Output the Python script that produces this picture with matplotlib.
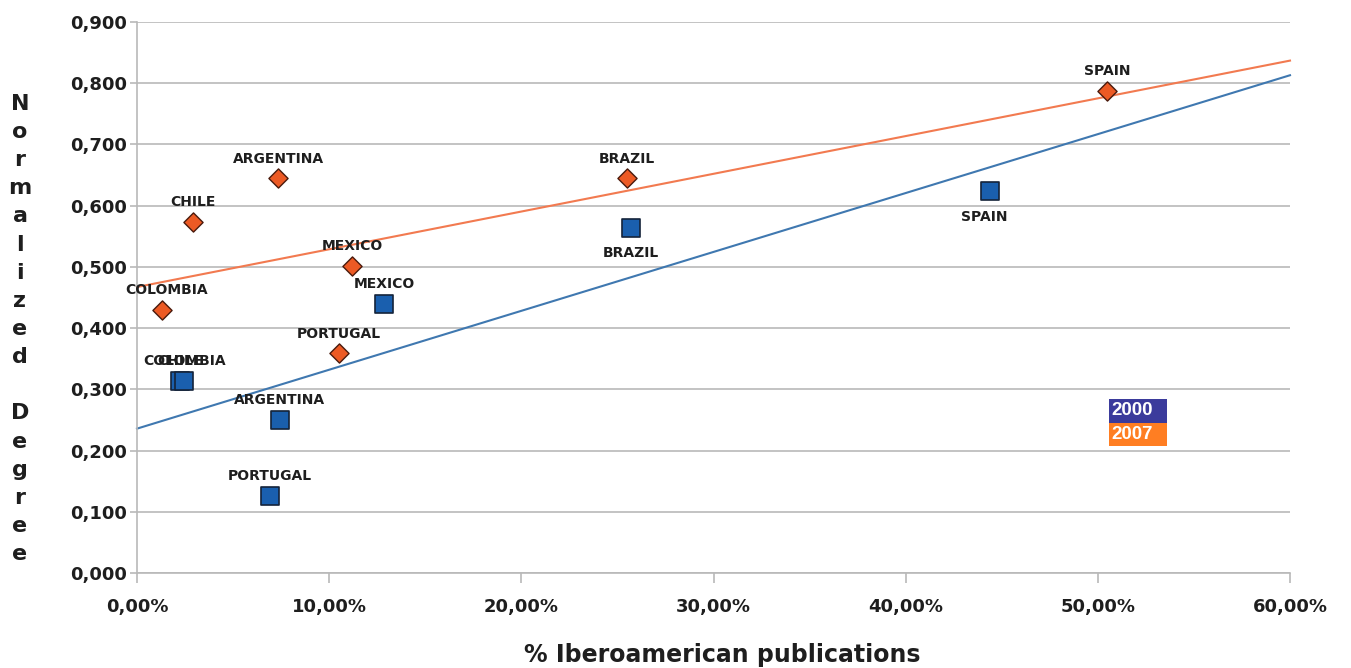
import numpy as np
import matplotlib
matplotlib.use("Agg")
import matplotlib.pyplot as plt
from matplotlib.patches import Rectangle
from matplotlib.ticker import FixedLocator, FuncFormatter

# Share of Iberoamerican publications (%) and normalized degree per country
countries_2000 = ["CHILE", "COLOMBIA", "ARGENTINA", "PORTUGAL", "MEXICO", "BRAZIL", "SPAIN"]
pub_2000 = [2.25, 2.45, 7.44, 6.92, 12.85, 25.7, 44.4]
deg_2000 = [0.314, 0.314, 0.250, 0.126, 0.440, 0.564, 0.624]

countries_2007 = ["COLOMBIA", "CHILE", "ARGENTINA", "MEXICO", "PORTUGAL", "BRAZIL", "SPAIN"]
pub_2007 = [1.30, 2.91, 7.34, 11.19, 10.50, 25.5, 50.47]
deg_2007 = [0.430, 0.574, 0.645, 0.502, 0.359, 0.645, 0.788]

x_ticks = [0, 10, 20, 30, 40, 50, 60]
y_ticks = [0.0, 0.1, 0.2, 0.3, 0.4, 0.5, 0.6, 0.7, 0.8, 0.9]
years = ["2000", "2007"]

# label offsets (points) for each series
off_2000 = {"CHILE": (0, 14), "COLOMBIA": (0, 14), "ARGENTINA": (0, 14), "PORTUGAL": (0, 14),
            "MEXICO": (0, 14), "BRAZIL": (0, -18), "SPAIN": (-4, -19)}
off_2007 = {c: (0, 14) for c in countries_2007}
off_2007["COLOMBIA"] = (3, 14)

BLUE_FILL = "#1a5fae"
BLUE_EDGE = "#14233a"
BLUE_LINE = "#3f78b0"
ORANGE_FILL = "#ec5a24"
ORANGE_EDGE = "#4a1a0c"
ORANGE_LINE = "#f27a50"
GRID = "#b9b9b9"
TEXT = "#1e1e1e"

fig = plt.figure(figsize=(13.51, 6.68), dpi=100)
ax = fig.add_axes([137 / 1351, 1 - 573 / 668, (1290 - 137) / 1351, (573 - 22) / 668])

ax.set_xlim(0, 60)
ax.set_ylim(0, 0.9)

# linear trend for each year
xs = np.array([0, 60])
for px, py, col in [(pub_2000, deg_2000, BLUE_LINE), (pub_2007, deg_2007, ORANGE_LINE)]:
    k, b = np.polyfit(px, py, 1)
    ax.plot(xs, k * xs + b, color=col, lw=1.5, zorder=2, clip_on=False)

ax.scatter(pub_2000, deg_2000, marker="s", s=175, facecolor=BLUE_FILL,
           edgecolor=BLUE_EDGE, linewidth=1.2, zorder=4)
ax.scatter(pub_2007, deg_2007, marker="D", s=95, facecolor=ORANGE_FILL,
           edgecolor=ORANGE_EDGE, linewidth=1.0, zorder=4)

for name, x, y in zip(countries_2000, pub_2000, deg_2000):
    ax.annotate(name, (x, y), xytext=off_2000[name], textcoords="offset points",
                ha="center", va="center", fontsize=10, fontweight="bold",
                color=TEXT, zorder=5)
for name, x, y in zip(countries_2007, pub_2007, deg_2007):
    ax.annotate(name, (x, y), xytext=off_2007[name], textcoords="offset points",
                ha="center", va="center", fontsize=10, fontweight="bold",
                color=TEXT, zorder=5)

# axes styling
ax.yaxis.set_major_locator(FixedLocator(y_ticks))
ax.xaxis.set_major_locator(FixedLocator(x_ticks))
ax.yaxis.set_major_formatter(FuncFormatter(lambda v, p: f"{v:.3f}".replace(".", ",")))
ax.xaxis.set_major_formatter(FuncFormatter(lambda v, p: f"{v:.2f}%".replace(".", ",")))
ax.grid(axis="y", color=GRID, lw=1.2, zorder=0)
ax.set_axisbelow(True)
for s in ["top", "right"]:
    ax.spines[s].set_visible(False)
for s in ["left", "bottom"]:
    ax.spines[s].set_color(GRID)
    ax.spines[s].set_linewidth(1.2)
ax.tick_params(axis="y", length=5, width=1.2, color=GRID, pad=2, labelsize=13, labelcolor=TEXT)
ax.tick_params(axis="x", length=7, width=1.2, color=GRID, pad=11, labelsize=13, labelcolor=TEXT)
for lab in ax.get_xticklabels() + ax.get_yticklabels():
    lab.set_fontweight("bold")

# small year key
key_cols = [("#3b3b9c", years[0]), ("#ff7e22", years[1])]
y_top = 0.284
h = 0.0385
for i, (c, t) in enumerate(key_cols):
    y0 = y_top - (i + 1) * h
    ax.add_patch(Rectangle((50.6, y0), 3.0, h, facecolor=c, edgecolor="none", zorder=3))
    ax.text(50.72, y0 + h / 2, t, ha="left", va="center", fontsize=13.5,
            family="Liberation Sans", fontweight="bold", color="white", zorder=4)

# axis titles
ax_label = "\n".join("Normalized Degree")
fig.text(20 / 1351, 1 - 329 / 668, ax_label, ha="center", va="center",
         fontsize=16, fontweight="bold", color=TEXT, linespacing=1.51)
fig.text(722 / 1351, 1 - 655 / 668, "% Iberoamerican publications", ha="center",
         va="center", fontsize=17, fontweight="bold", color=TEXT)

fig.savefig("out.png", dpi=100, facecolor="white")
